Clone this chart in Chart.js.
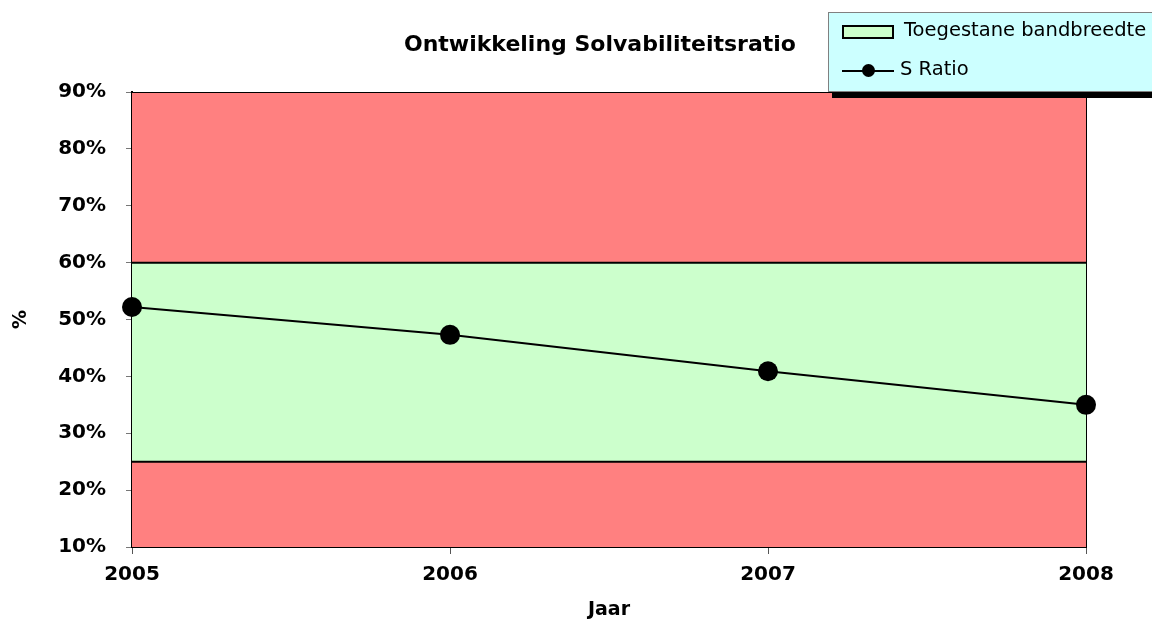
<!DOCTYPE html>
<html>
<head>
<meta charset="utf-8">
<script src="https://cdn.jsdelivr.net/npm/chart.js@4.4.0/dist/chart.umd.min.js"></script>
<style>
  html, body { margin: 0; padding: 0; background: #fff; }
  #wrap { position: relative; width: 1152px; height: 621px; overflow: hidden; font-family: "DejaVu Sans", Verdana, sans-serif; }
  #titel { position: absolute; left: 380px; width: 440px; top: 31px; text-align: center; font-weight: bold; font-size: 22px; color: #000; }
  #legende { position: absolute; left: 828px; top: 12px; width: 340px; height: 78px; background: #CCFFFF; border: 1px solid #808080; box-shadow: 4px 6px 0 #000; font-size: 19.5px; }
  .item { position: absolute; left: 13px; height: 24px; line-height: 24px; }
  .swatch { position: absolute; left: 0; top: 5px; width: 48px; height: 10px; background: #CCFFCC; border: 2px solid #000; }
  .lijn { position: absolute; left: 0; top: 11px; width: 52px; height: 2px; background: #000; }
  .bol { position: absolute; left: 20px; top: 5px; width: 13px; height: 13px; border-radius: 50%; background: #000; }
  .tekst { position: absolute; white-space: nowrap; top: -2px; }
</style>
</head>
<body>
<div id="wrap">
  <canvas id="chartSolvabiliteit" width="1152" height="621"></canvas>
  <div id="titel">Ontwikkeling Solvabiliteitsratio</div>
  <div id="legende">
    <div class="item" style="top:7px"><div class="swatch"></div><span class="tekst" style="left:62px">Toegestane bandbreedte</span></div>
    <div class="item" style="top:46px"><div class="lijn"></div><div class="bol"></div><span class="tekst" style="left:58px">S Ratio</span></div>
  </div>
</div>
<script>
const jaren = ['2005', '2006', '2007', '2008'];
const sRatio = [52.2, 47.3, 40.9, 35.0];
const bandOnder = [25, 25, 25, 25];
const bandBoven = [60, 60, 60, 60];
const asMax = [90, 90, 90, 90];
const yTicks = [10, 20, 30, 40, 50, 60, 70, 80, 90];

const tickFont = { family: 'DejaVu Sans', size: 20, weight: 'bold' };
const titelFont = { family: 'DejaVu Sans', size: 19, weight: 'bold' };

new Chart(document.getElementById('chartSolvabiliteit'), {
  type: 'line',
  data: {
    labels: jaren,
    datasets: [
      {
        label: 'S Ratio',
        data: sRatio,
        borderColor: '#000',
        borderWidth: 2,
        backgroundColor: '#000',
        pointRadius: 10,
        pointBackgroundColor: '#000',
        pointBorderWidth: 0,
        tension: 0,
        fill: false,
        clip: false
      },
      {
        label: 'onder',
        data: bandOnder,
        borderColor: '#000',
        borderWidth: 2,
        backgroundColor: '#FF8080',
        pointRadius: 0,
        fill: 'start'
      },
      {
        label: 'Toegestane bandbreedte',
        data: bandBoven,
        borderColor: '#000',
        borderWidth: 2,
        backgroundColor: '#CCFFCC',
        pointRadius: 0,
        fill: 1
      },
      {
        label: 'boven',
        data: asMax,
        borderColor: '#000',
        borderWidth: 2,
        backgroundColor: '#FF8080',
        pointRadius: 0,
        fill: 2
      }
    ]
  },
  options: {
    responsive: false,
    animation: false,
    layout: { padding: { left: 0, top: 92, right: 0, bottom: 0 } },
    plugins: {
      legend: { display: false },
      title: { display: false },
      tooltip: { enabled: false }
    },
    scales: {
      x: {
        type: 'category',
        offset: false,
        border: { color: '#000', width: 2 },
        grid: { drawOnChartArea: false, drawTicks: true, tickLength: 7, color: '#555' },
        ticks: { color: '#000', font: tickFont, padding: 9, maxRotation: 0 },
        title: { display: true, text: 'Jaar', color: '#000', font: titelFont, padding: { top: 6, bottom: 0 } },
        afterFit: s => { s.height = 74; }
      },
      y: {
        min: 10,
        max: 90,
        afterBuildTicks: s => { s.ticks = yTicks.map(v => ({ value: v })); },
        border: { color: '#000', width: 2 },
        grid: { drawOnChartArea: false, drawTicks: true, tickLength: 6, color: '#777' },
        ticks: { color: '#000', font: tickFont, padding: 20, callback: v => v + '%' },
        title: { display: true, text: '%', color: '#000', font: titelFont, padding: { top: 10, bottom: 0 } },
        afterFit: s => { s.width = 132; }
      },
      y2: {
        position: 'right',
        min: 10,
        max: 90,
        border: { color: '#000', width: 2 },
        grid: { drawOnChartArea: false, drawTicks: false },
        ticks: { display: false },
        afterFit: s => { s.width = 66; }
      }
    }
  }
});
</script>
</body>
</html>
